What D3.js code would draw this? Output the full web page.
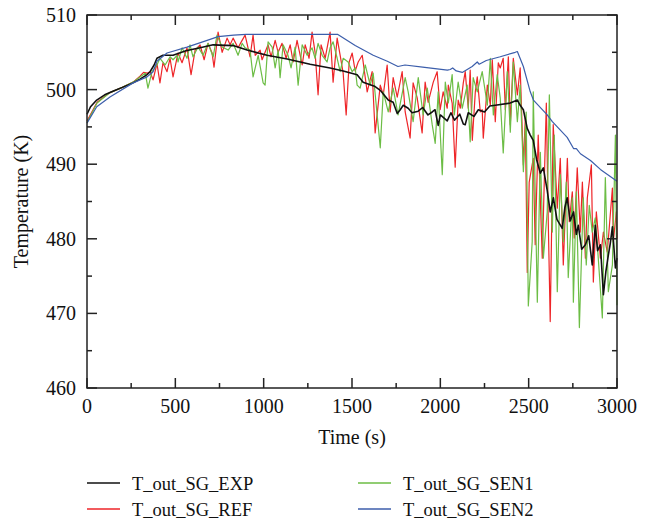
<!DOCTYPE html>
<html>
<head>
<meta charset="utf-8">
<script src="https://cdn.jsdelivr.net/npm/d3@7"></script>
<style>
body{margin:0;background:#fff;}
text{font-family:"Liberation Serif","DejaVu Serif",serif;fill:#111;}
</style>
</head>
<body>
<div id="chart"></div>
<script>
// series: [time (s), temperature (K)]
var expData=[[0,496.7],[20,497.7],[55,498.6],[100,499.3],[150,499.8],[200,500.3],[261,500.9],[300,501.4],[340,502.0],[357,502.4],[380,503.3],[396,504.2],[430,504.6],[487,504.6],[560,505.2],[640,505.6],[714,506.0],[827,505.9],[906,505.3],[1019,504.6],[1133,504.1],[1263,503.4],[1376,502.9],[1450,502.5],[1529,502.0],[1563,501.0],[1631,500.4],[1660,499.9],[1705,498.6],[1733,498.3],[1756,496.8],[1773,497.3],[1790,497.9],[1818,497.5],[1840,496.9],[1875,497.1],[1900,497.6],[1930,496.6],[1954,497.0],[1970,497.3],[1988,495.2],[2000,496.6],[2010,496.4],[2039,495.8],[2060,496.9],[2080,495.9],[2110,496.7],[2130,495.4],[2141,495.3],[2158,496.9],[2190,496.4],[2215,497.3],[2250,497.0],[2280,497.8],[2311,497.9],[2396,498.2],[2436,498.6],[2452,497.9],[2470,497.3],[2492,494.8],[2509,493.9],[2526,493.2],[2545,490.6],[2566,488.8],[2583,489.5],[2605,486.5],[2622,483.6],[2640,485.5],[2660,482.6],[2690,481.4],[2705,484.2],[2718,485.5],[2735,482.4],[2754,483.6],[2770,480.6],[2781,481.8],[2800,478.6],[2821,479.2],[2840,480.4],[2860,476.5],[2877,481.8],[2890,478.4],[2906,479.2],[2923,472.5],[2937,475.6],[2951,477.8],[2962,479.4],[2974,481.6],[2991,476.1],[3000,477.4]];

var refData=[[0,495.8],[57,498.3],[130,499.6],[200,500.3],[261,501.0],[300,501.8],[320,502.3],[340,502.2],[357,502.4],[374,501.3],[396,503.5],[413,500.9],[430,503.6],[453,502.4],[470,504.2],[487,501.7],[515,504.9],[538,503.6],[566,505.6],[589,502.0],[612,505.3],[640,506.0],[663,504.0],[685,506.2],[708,504.9],[719,503.0],[742,507.7],[765,505.0],[793,506.9],[810,506.0],[827,506.9],[855,505.6],[878,506.6],[895,507.3],[923,504.4],[940,507.3],[952,504.6],[980,505.3],[991,504.0],[1008,505.0],[1025,506.0],[1042,504.4],[1065,506.6],[1082,505.0],[1104,506.2],[1127,504.2],[1150,506.0],[1167,503.7],[1189,506.6],[1218,503.3],[1235,506.0],[1257,504.2],[1274,507.7],[1291,505.0],[1308,499.3],[1325,506.0],[1348,504.2],[1376,507.7],[1393,501.0],[1416,506.9],[1433,504.6],[1450,502.2],[1467,496.6],[1484,503.7],[1501,504.9],[1518,502.5],[1535,503.7],[1558,504.6],[1586,499.7],[1614,502.4],[1631,494.2],[1660,500.6],[1677,499.3],[1699,503.3],[1716,497.0],[1733,501.6],[1756,499.0],[1784,502.4],[1801,497.0],[1829,493.5],[1846,500.9],[1869,498.9],[1897,494.2],[1914,501.0],[1931,498.3],[1960,501.0],[1982,502.4],[1999,497.3],[2016,499.7],[2039,497.5],[2045,500.6],[2067,498.2],[2084,489.6],[2101,498.6],[2113,497.5],[2130,500.9],[2141,502.4],[2158,497.5],[2169,502.6],[2181,493.2],[2198,499.7],[2209,501.7],[2226,497.0],[2237,497.3],[2243,493.5],[2266,500.6],[2283,497.9],[2294,504.0],[2311,495.7],[2328,503.6],[2339,502.9],[2356,504.2],[2368,497.3],[2385,504.4],[2396,495.3],[2413,504.2],[2436,499.3],[2452,502.9],[2470,489.9],[2481,496.2],[2492,475.5],[2503,487.6],[2526,490.8],[2537,479.2],[2554,493.9],[2577,477.4],[2600,498.2],[2611,482.3],[2622,468.9],[2639,495.3],[2662,484.1],[2679,490.8],[2696,476.5],[2719,490.8],[2730,482.3],[2747,486.3],[2758,480.1],[2775,489.5],[2792,480.9],[2804,487.6],[2821,477.4],[2832,485.5],[2855,489.9],[2866,474.2],[2883,483.6],[2906,477.4],[2923,480.9],[2945,478.2],[2974,486.8],[2979,479.6],[2996,483.6],[3000,480.0]];

var sen1Data=[[0,495.6],[57,498.2],[130,499.6],[200,500.3],[261,501.0],[300,501.7],[330,502.2],[345,500.2],[368,502.4],[396,503.3],[413,504.2],[442,503.3],[470,504.4],[487,504.0],[510,504.6],[515,503.7],[538,505.6],[566,504.2],[583,506.0],[600,504.4],[629,505.7],[657,504.6],[685,506.2],[714,504.4],[736,507.3],[765,505.7],[799,505.3],[827,506.2],[855,504.6],[878,506.2],[895,505.6],[923,505.3],[940,501.7],[969,504.6],[997,500.9],[1008,500.6],[1025,506.4],[1048,505.7],[1065,502.9],[1082,505.3],[1093,501.6],[1110,506.0],[1138,504.6],[1155,502.9],[1178,505.7],[1195,500.6],[1218,506.0],[1246,504.6],[1274,505.6],[1291,504.2],[1308,506.2],[1331,504.6],[1359,503.7],[1376,505.6],[1393,506.4],[1416,504.2],[1433,502.4],[1450,504.2],[1478,503.7],[1501,502.4],[1518,502.9],[1529,500.6],[1546,500.2],[1575,503.3],[1603,500.6],[1620,502.2],[1660,492.2],[1677,499.7],[1705,497.0],[1733,500.2],[1761,496.6],[1801,501.6],[1818,499.7],[1846,495.7],[1875,501.6],[1903,496.6],[1926,500.2],[1954,495.3],[1971,492.8],[1988,499.7],[2011,488.6],[2028,501.0],[2045,498.2],[2067,502.0],[2079,496.6],[2101,501.0],[2124,497.5],[2152,500.6],[2169,493.0],[2186,501.6],[2209,499.7],[2237,502.4],[2266,497.9],[2283,504.2],[2300,496.6],[2322,502.0],[2339,498.9],[2356,491.5],[2379,502.4],[2396,494.3],[2413,503.7],[2436,495.7],[2452,500.6],[2470,489.0],[2486,497.0],[2498,471.0],[2520,479.6],[2526,499.7],[2549,471.5],[2566,491.6],[2583,477.4],[2605,483.6],[2617,499.3],[2634,480.9],[2645,493.9],[2662,472.9],[2679,488.6],[2696,479.6],[2713,487.6],[2724,474.8],[2747,485.5],[2753,471.5],[2770,486.3],[2787,468.1],[2809,485.5],[2826,476.5],[2843,484.5],[2860,480.9],[2877,482.8],[2894,477.4],[2917,469.4],[2934,488.2],[2951,472.9],[2974,476.5],[2991,493.9],[3000,471.1]];

var sen2Data=[[0,495.5],[55,497.7],[130,499.0],[261,500.9],[340,501.7],[374,502.4],[396,503.8],[453,504.9],[566,505.7],[680,506.6],[742,507.1],[830,507.3],[900,507.4],[1420,507.4],[1518,505.9],[1620,504.6],[1700,503.8],[1760,503.1],[1800,503.3],[1900,503.0],[2040,502.6],[2056,502.7],[2070,502.9],[2090,502.5],[2124,502.3],[2180,503.1],[2209,503.7],[2220,503.4],[2260,503.9],[2339,504.4],[2424,505.0],[2436,505.1],[2470,503.1],[2509,499.7],[2527,498.6],[2605,496.6],[2634,495.7],[2718,493.6],[2754,492.1],[2770,492.1],[2793,491.4],[2850,490.5],[2906,489.3],[3000,487.7]];

var seriesNames=["T_out_SG_EXP","T_out_SG_REF","T_out_SG_SEN1","T_out_SG_SEN2"];
var seriesColors=["#111111","#ee2528","#6cbd45","#3c5eab"];
var xTicks=[0,500,1000,1500,2000,2500,3000];
var yTicks=[460,470,480,490,500,510];

var width=649, height=520;
var pLeft=87, pRight=617, pTop=15, pBottom=388;

var svg=d3.select("#chart").append("svg")
          .attr("width",width)
          .attr("height",height);

var x=d3.scaleLinear().domain([0,3000]).range([pLeft,pRight]);
var y=d3.scaleLinear().domain([460,510]).range([pBottom,pTop]);

var line=d3.line()
           .x(function(d){return x(d[0]);})
           .y(function(d){return y(d[1]);});

// draw order: REF, SEN1, EXP, SEN2
var drawList=[[refData,1],[sen1Data,2],[expData,0],[sen2Data,3]];
drawList.forEach(function(s){
  svg.append("path")
     .datum(s[0])
     .attr("d",line)
     .attr("fill","none")
     .attr("stroke",seriesColors[s[1]])
     .attr("stroke-width",s[1]==0?1.6:1.2)
     .attr("stroke-linejoin","round");
});

// frame
svg.append("rect")
   .attr("x",pLeft).attr("y",pTop)
   .attr("width",pRight-pLeft).attr("height",pBottom-pTop)
   .attr("fill","none").attr("stroke","#222").attr("stroke-width",1.5);

// inward ticks on all sides
var xMinor=d3.range(0,3001,250), yMinor=d3.range(460,511,5);
xMinor.forEach(function(t){
  var len=(t%500==0)?10:5;
  svg.append("line").attr("x1",x(t)).attr("x2",x(t)).attr("y1",pBottom).attr("y2",pBottom-len).attr("stroke","#222").attr("stroke-width",1.5);
  svg.append("line").attr("x1",x(t)).attr("x2",x(t)).attr("y1",pTop).attr("y2",pTop+len).attr("stroke","#222").attr("stroke-width",1.5);
});
yMinor.forEach(function(v){
  var len=(v%10==0)?10:5;
  svg.append("line").attr("y1",y(v)).attr("y2",y(v)).attr("x1",pLeft).attr("x2",pLeft+len).attr("stroke","#222").attr("stroke-width",1.5);
  svg.append("line").attr("y1",y(v)).attr("y2",y(v)).attr("x1",pRight).attr("x2",pRight-len).attr("stroke","#222").attr("stroke-width",1.5);
});

svg.selectAll(".xl").data(xTicks).enter().append("text")
   .attr("x",function(d){return x(d);})
   .attr("y",pBottom+25)
   .attr("text-anchor","middle")
   .attr("font-size",20)
   .text(function(d){return d;});

svg.selectAll(".yl").data(yTicks).enter().append("text")
   .attr("x",pLeft-11)
   .attr("y",function(d){return y(d)+7;})
   .attr("text-anchor","end")
   .attr("font-size",20)
   .text(function(d){return d;});

svg.append("text")
   .attr("x",(pLeft+pRight)/2).attr("y",444)
   .attr("text-anchor","middle").attr("font-size",20)
   .text("Time (s)");

svg.append("text")
   .attr("transform","translate(28,"+((pTop+pBottom)/2)+") rotate(-90)")
   .attr("text-anchor","middle").attr("font-size",20)
   .text("Temperature (K)");

// legend
var legX=[87,358], legY=[483,509];
seriesNames.forEach(function(name,i){
  var lx=legX[i<2?0:1], ly=legY[i%2];
  svg.append("line").attr("x1",lx).attr("x2",lx+33).attr("y1",ly).attr("y2",ly)
     .attr("stroke",seriesColors[i]).attr("stroke-width",1.5);
  svg.append("text").attr("x",lx+45).attr("y",ly+6.5).attr("font-size",18.5).text(name);
});
</script>
</body>
</html>
